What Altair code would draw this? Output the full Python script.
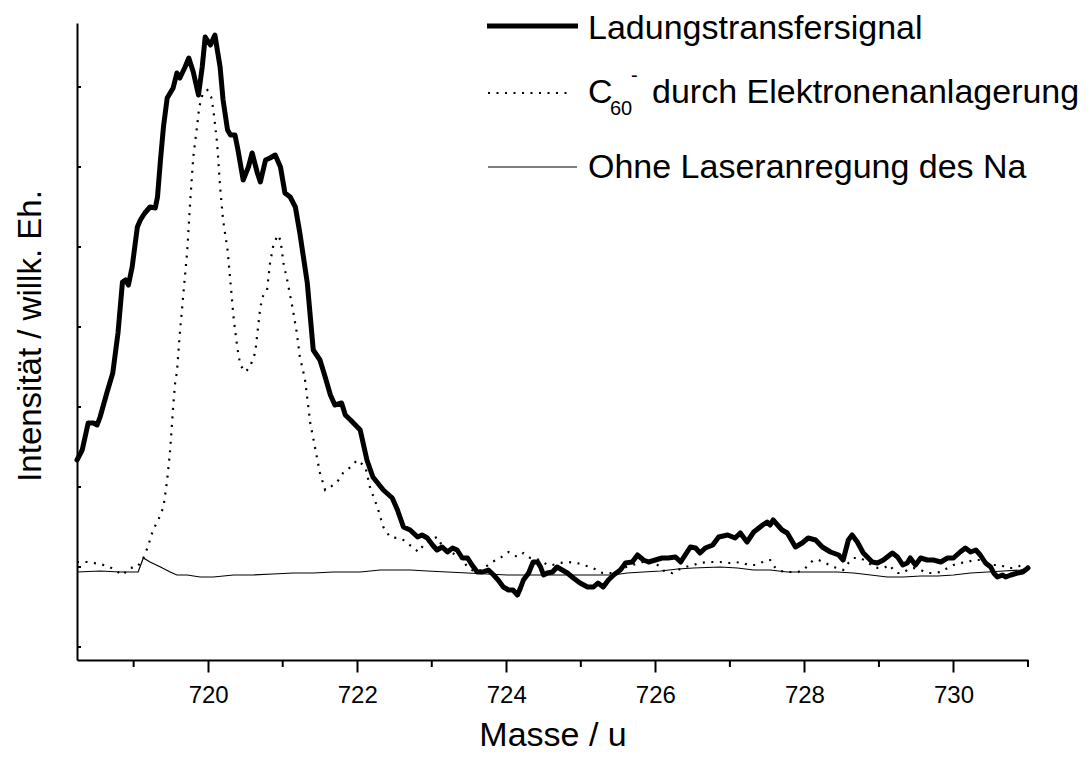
import altair as alt
import pandas as pd

# ---------------- data ----------------
mass_ct = [718.24, 718.31, 718.39, 718.46, 718.51, 718.55, 718.64, 718.68, 718.72, 718.79,
           718.85, 718.89, 718.93, 718.98, 719.05, 719.09, 719.15, 719.22, 719.29, 719.32,
           719.36, 719.40, 719.45, 719.49, 719.53, 719.58, 719.62, 719.69, 719.74, 719.80,
           719.87, 719.92, 719.96, 720.03, 720.09, 720.16, 720.20, 720.26, 720.30, 720.36,
           720.40, 720.47, 720.54, 720.59, 720.66, 720.70, 720.77, 720.83, 720.90, 720.97,
           721.03, 721.10, 721.17, 721.23, 721.33, 721.41, 721.50, 721.57, 721.64, 721.70,
           721.79, 721.84, 721.91, 722.04, 722.13, 722.21, 722.35, 722.47, 722.54, 722.62,
           722.71, 722.81, 722.87, 722.94, 723.01, 723.07, 723.14, 723.21, 723.28, 723.34,
           723.41, 723.48, 723.54, 723.61, 723.68, 723.76, 723.83, 723.89, 723.96, 724.03,
           724.09, 724.15, 724.19, 724.23, 724.30, 724.36, 724.42, 724.46, 724.50, 724.55,
           724.62, 724.68, 724.75, 724.82, 724.90, 724.99, 725.09, 725.17, 725.23, 725.30,
           725.37, 725.44, 725.53, 725.60, 725.69, 725.76, 725.84, 725.91, 726.00, 726.09,
           726.17, 726.27, 726.34, 726.40, 726.47, 726.54, 726.60, 726.67, 726.77, 726.85,
           726.97, 727.07, 727.14, 727.23, 727.32, 727.44, 727.50, 727.54, 727.58, 727.70,
           727.77, 727.88, 727.97, 728.05, 728.15, 728.24, 728.35, 728.46, 728.52, 728.59,
           728.64, 728.71, 728.79, 728.91, 728.98, 729.06, 729.18, 729.25, 729.32, 729.38,
           729.42, 729.49, 729.56, 729.65, 729.73, 729.83, 729.92, 730.00, 730.09, 730.16,
           730.23, 730.30, 730.36, 730.43, 730.50, 730.54, 730.59, 730.66, 730.70, 730.77,
           730.86, 730.93, 731.00]
int_ct = [107, 117, 144, 144, 142, 150, 174, 184, 194, 234,
          285, 287, 282, 300, 340, 347, 354, 360, 359, 370,
          407, 440, 469, 474, 479, 494, 489, 500, 509, 495,
          472, 500, 530, 522, 532, 500, 467, 437, 432, 432,
          417, 387, 400, 414, 394, 385, 407, 409, 412, 400,
          374, 370, 360, 334, 284, 217, 207, 190, 172, 162,
          164, 152, 147, 137, 107, 90, 77, 69, 57, 40,
          37, 30, 32, 29, 22, 17, 20, 15, 19, 17,
          9, 9, 2, -5, -5, -3, -8, -13, -20, -23,
          -23, -28, -21, -13, -6, 5, 5, 0, -8, -6,
          -5, 0, -3, -6, -11, -16, -20, -20, -16, -20,
          -13, -8, -3, 4, 5, 12, 7, 5, 7, 9,
          9, 10, 5, 12, 20, 19, 14, 19, 22, 30,
          32, 29, 34, 25, 35, 42, 45, 42, 47, 37,
          34, 20, 24, 29, 27, 20, 15, 12, 7, 27,
          32, 25, 14, 5, 4, 7, 14, 10, 2, 4,
          9, 2, 9, 7, 7, 5, 9, 9, 15, 19,
          15, 17, 12, 4, 0, -6, -10, -8, -10, -8,
          -6, -5, -1]

mass_c60 = [718.24, 718.38, 718.55, 718.68, 718.85, 718.95, 719.05, 719.13, 719.19, 719.26,
            719.33, 719.40, 719.45, 719.49, 719.53, 719.56, 719.58, 719.62, 719.66, 719.72,
            719.76, 719.80, 719.85, 719.88, 719.93, 719.99, 720.04, 720.07, 720.12, 720.16,
            720.20, 720.26, 720.30, 720.34, 720.39, 720.43, 720.50, 720.56, 720.63, 720.67,
            720.70, 720.74, 720.79, 720.83, 720.87, 720.93, 720.97, 721.01, 721.06, 721.13,
            721.19, 721.23, 721.28, 721.30, 721.37, 721.44, 721.50, 721.57, 721.64, 721.73,
            721.81, 721.91, 722.00, 722.11, 722.17, 722.27, 722.35, 722.44, 722.54, 722.62,
            722.74, 722.82, 722.91, 722.98, 723.07, 723.15, 723.25, 723.38, 723.48, 723.54,
            723.62, 723.72, 723.81, 723.92, 724.03, 724.15, 724.23, 724.32, 724.46, 724.55,
            724.62, 724.72, 724.83, 724.95, 725.03, 725.13, 725.22, 725.29, 725.36, 725.44,
            725.57, 725.69, 725.80, 725.89, 725.97, 726.07, 726.13, 726.23, 726.30, 726.40,
            726.51, 726.60, 726.70, 726.78, 726.87, 726.97, 727.05, 727.14, 727.25, 727.34,
            727.44, 727.50, 727.54, 727.61, 727.72, 727.81, 727.91, 727.99, 728.05, 728.12,
            728.19, 728.28, 728.39, 728.52, 728.59, 728.66, 728.75, 728.85, 728.93, 728.99,
            729.06, 729.15, 729.19, 729.25, 729.32, 729.38, 729.46, 729.56, 729.65, 729.73,
            729.83, 729.92, 730.00, 730.09, 730.19, 730.27, 730.36, 730.46, 730.54, 730.63,
            730.72, 730.81, 730.93, 731.00]
int_c60 = [5, 5, 3, 0, -8, -1, 0, 9, 20, 37,
           47, 60, 87, 117, 160, 187, 194, 234, 267, 317,
           367, 410, 440, 460, 474, 477, 470, 457, 424, 380,
           347, 317, 284, 250, 220, 202, 195, 200, 214, 240,
           260, 272, 277, 304, 320, 332, 327, 304, 287, 260,
           234, 210, 194, 187, 144, 117, 94, 77, 80, 85,
           94, 100, 107, 100, 80, 60, 40, 30, 29, 27,
           20, 15, 24, 27, 30, 20, 15, 10, 0, -3,
           -5, 0, 5, 9, 15, 10, 14, 9, 7, 2,
           2, 4, 5, 4, 2, 0, -3, -6, -6, -6,
           -1, 2, 4, 7, 5, 0, -5, -6, -3, 0,
           2, 4, 5, 5, 5, 4, 4, 5, 2, 2,
           5, 7, 7, -1, -5, -5, -5, -3, 2, 7,
           7, 4, 0, -3, 4, 9, 9, 5, 0, -1,
           -1, 2, -3, -6, -6, -3, -1, -3, -6, -6,
           -5, -1, 2, 4, 5, 7, 7, 4, 2, 2,
           -1, -1, 2, 0]

mass_off = [718.24, 718.55, 718.82, 719.06, 719.13, 719.22, 719.36, 719.49, 719.58, 719.72,
            719.89, 720.07, 720.34, 720.60, 720.87, 721.14, 721.41, 721.68, 722.04, 722.31,
            722.48, 722.71, 722.94, 723.21, 723.48, 723.74, 724.01, 724.28, 724.55, 724.82,
            725.17, 725.44, 725.62, 725.84, 726.07, 726.30, 726.51, 726.87, 727.10, 727.32,
            727.54, 727.77, 727.99, 728.21, 728.44, 728.66, 728.89, 729.11, 729.33, 729.56,
            729.79, 730.00, 730.23, 730.46, 730.67, 730.90, 731.00]
int_off = [-5, -4, -5, -5, 9, 5, 0, -5, -8, -8,
           -10, -10, -8, -8, -7, -6, -6, -5, -5, -3,
           -3, -3, -4, -5, -6, -7, -8, -8, -8, -8,
           -8, -8, -6, -5, -4, -2, -1, 0, -1, -3,
           -3, -5, -5, -5, -5, -6, -8, -10, -10, -9,
           -9, -8, -6, -5, -4, -3, -1]

x_ticks = [720, 722, 724, 726, 728, 730]
x_minor_ticks = [719, 721, 723, 725, 727, 729, 731]
y_ticks = [-80, 0, 80, 160, 240, 320, 400, 480]

x_title = "Masse / u"
y_title = "Intensität / willk. Eh."
legend_row1 = "Ladungstransfersignal"
legend_row2_main = "C"
legend_row2_sub = "60"
legend_row2_sup = "-"
legend_row2_rest = "durch Elektronenanlagerung"
legend_row3 = "Ohne Laseranregung des Na"

FONT = "Liberation Sans"
W, H = 951, 637

df_ct = pd.DataFrame({"mass": mass_ct, "intensity": int_ct})
df_c60 = pd.DataFrame({"mass": mass_c60, "intensity": int_c60})
df_off = pd.DataFrame({"mass": mass_off, "intensity": int_off})

xscale = alt.Scale(domain=[718.24, 731.0], nice=False, zero=False)
yscale = alt.Scale(domain=[-93, 544], nice=False, zero=False)

X = alt.X("mass:Q", scale=xscale,
          axis=alt.Axis(values=x_ticks, format="d", title=x_title, grid=False,
                        tickSize=12, tickWidth=2, tickColor="black",
                        domainColor="black", domainWidth=2,
                        labelFont=FONT, labelFontSize=24, labelColor="black", labelPadding=11,
                        titleFont=FONT, titleFontSize=34, titleFontWeight="normal",
                        titleColor="black", titleBaseline="alphabetic",
                        titleX=W / 2, titleY=85))
Y = alt.Y("intensity:Q", scale=yscale,
          axis=alt.Axis(title=y_title, grid=False, labels=False, ticks=False,
                        domainColor="black", domainWidth=2,
                        titleFont=FONT, titleFontSize=33, titleFontWeight="normal",
                        titleColor="black", titleBaseline="alphabetic",
                        titleX=-37, titleY=H / 2 - 6))

line_ct = alt.Chart(df_ct).mark_line(color="black", strokeWidth=5, strokeJoin="round",
                                     strokeCap="round").encode(x=X, y=Y)
line_c60 = alt.Chart(df_c60).mark_line(color="black", strokeWidth=2.2,
                                       strokeDash=[2, 6.5]).encode(x=X, y=Y)
line_off = alt.Chart(df_off).mark_line(color="black", strokeWidth=1.2).encode(x=X, y=Y)

ytick_df = pd.DataFrame({"intensity": y_ticks})
yticks = alt.Chart(ytick_df).mark_rule(color="black", strokeWidth=2).encode(
    y=Y, x=alt.value(0), x2=alt.value(4))

xminor_df = pd.DataFrame({"mass": x_minor_ticks})
xminor = alt.Chart(xminor_df).mark_rule(color="black", strokeWidth=2, clip=False).encode(
    x=X, y=alt.value(H), y2=alt.value(H + 7))

one = pd.DataFrame({"k": [0]})
leg_base = alt.Chart(one)
leg1_line = leg_base.mark_rule(color="black", strokeWidth=5).encode(
    x=alt.value(410), x2=alt.value(501), y=alt.value(3))
leg2_line = leg_base.mark_rule(color="black", strokeWidth=2.2, strokeDash=[2, 6.5]).encode(
    x=alt.value(411), x2=alt.value(493), y=alt.value(70))
leg3_line = leg_base.mark_rule(color="black", strokeWidth=1.2).encode(
    x=alt.value(411), x2=alt.value(500), y=alt.value(144))

def txt(s, x, y, size=34):
    return leg_base.mark_text(text=s, font=FONT, fontSize=size, align="left",
                              baseline="alphabetic", color="black").encode(
        x=alt.value(x), y=alt.value(y))

legend = [
    leg1_line, leg2_line, leg3_line,
    txt(legend_row1, 511, 16),
    txt(legend_row2_main, 511, 80),
    txt(legend_row2_sub, 533, 92, 20),
    txt(legend_row2_sup, 554, 59, 20),
    txt(legend_row2_rest, 575, 80),
    txt(legend_row3, 511, 155),
]

chart = alt.layer(line_off, line_c60, line_ct, yticks, xminor, *legend).properties(
    width=W, height=H,
    autosize=alt.AutoSizeParams(type="none"),
    padding={"left": 69, "top": 15, "right": 53, "bottom": 92},
    background="white",
).configure_view(stroke=None)

chart.save("out.html", embed_options={"renderer": "svg", "actions": False})
